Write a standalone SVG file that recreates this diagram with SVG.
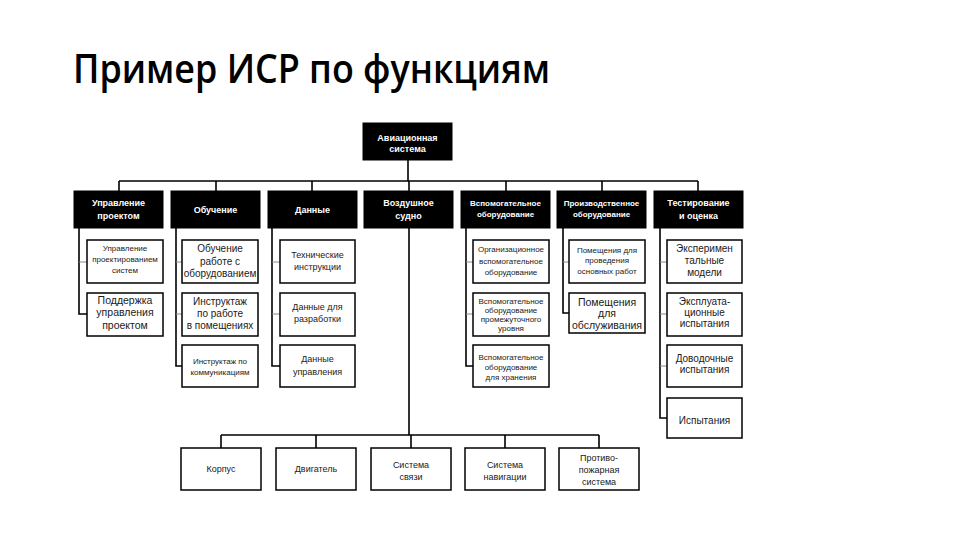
<svg xmlns="http://www.w3.org/2000/svg" width="960" height="540" viewBox="0 0 960 540">
<style>
.title{font-family:"Open Sans","Noto Sans","Liberation Sans",sans-serif;font-size:40px;font-weight:600;fill:#000}
.hd rect{fill:#000;stroke:#000;stroke-width:1}
.hd text{font-family:"Liberation Sans",Arial,sans-serif;font-weight:bold;fill:#fff;text-anchor:middle}
.bx rect{fill:#fff;stroke:#000;stroke-width:1.5}
.bx text{font-family:"Liberation Sans",Arial,sans-serif;fill:#1a1a1a;text-anchor:middle}
.s8{font-size:8px}
.s9{font-size:9px}
.s10{font-size:10px}
.s11{font-size:10.5px}
.ln{fill:none;stroke:#000;stroke-width:1.6}
.br{fill:none;stroke:#888;stroke-width:1}
</style>
<rect x="0" y="0" width="960" height="540" fill="#fff"/>
<text class="title" x="73" y="83" textLength="477" lengthAdjust="spacingAndGlyphs">Пример ИСР по функциям</text>

<g id="connectors">
<path class="ln" d="M408 160V181M119 181H698M119 181V191M216 181V191M312 181V191M409 181V191M506 181V191M602 181V191M698 181V191"/>
<path class="ln" d="M79 228V314H87M176 228V366H182M272 228V366H280M466 228V366H473M563 228V313H569M660 228V418H667"/>
<path class="br" d="M79 262H87M176 262H182M176 314H182M272 262H280M272 314H280M466 262H473M466 314H473M563 262H569M660 262H667M660 314H667M660 366H667"/>
<path class="ln" d="M409 228V435M221 435H599M221 435V448M316 435V448M411 435V448M505 435V448M599 435V448"/>
</g>

<g id="root" class="hd"><rect x="363" y="123" width="89" height="37"/><text class="s9" x="407.5"><tspan x="407.5" y="141">Авиационная</tspan><tspan x="407.5" y="152">система</tspan></text></g>

<g id="h1" class="hd"><rect x="74" y="191" width="89" height="37"/><text class="s9"><tspan x="118.5" y="205.5">Управление</tspan><tspan x="118.5" y="218.5">проектом</tspan></text></g>
<g id="h2" class="hd"><rect x="171" y="191" width="89" height="37"/><text class="s9" x="215.5" y="213">Обучение</text></g>
<g id="h3" class="hd"><rect x="268" y="191" width="89" height="37"/><text class="s9" x="312.5" y="213">Данные</text></g>
<g id="h4" class="hd"><rect x="364" y="191" width="89" height="37"/><text class="s9"><tspan x="408.5" y="205.5">Воздушное</tspan><tspan x="408.5" y="218.5">судно</tspan></text></g>
<g id="h5" class="hd"><rect x="461" y="191" width="89" height="37"/><text class="s8"><tspan x="505.5" y="206">Вспомогательное</tspan><tspan x="505.5" y="217">оборудование</tspan></text></g>
<g id="h6" class="hd"><rect x="557" y="191" width="89" height="37"/><text class="s8"><tspan x="601.5" y="206">Производственное</tspan><tspan x="601.5" y="217">оборудование</tspan></text></g>
<g id="h7" class="hd"><rect x="654" y="191" width="89" height="37"/><text class="s9"><tspan x="698.5" y="205.5">Тестирование</tspan><tspan x="698.5" y="218.5">и оценка</tspan></text></g>

<g id="c1a" class="bx"><rect x="87" y="240" width="76" height="43"/><text class="s8"><tspan x="125" y="251">Управление</tspan><tspan x="125" y="262">проектированием</tspan><tspan x="125" y="273">систем</tspan></text></g>
<g id="c1b" class="bx"><rect x="87" y="293" width="76" height="43"/><text class="s11"><tspan x="125" y="304">Поддержка</tspan><tspan x="125" y="316">управления</tspan><tspan x="125" y="329">проектом</tspan></text></g>

<g id="c2a" class="bx"><rect x="182" y="240" width="76" height="43"/><text class="s10"><tspan x="220" y="252">Обучение</tspan><tspan x="220" y="265">работе с</tspan><tspan x="220" y="277">оборудованием</tspan></text></g>
<g id="c2b" class="bx"><rect x="182" y="293" width="76" height="43"/><text class="s10"><tspan x="220" y="305">Инструктаж</tspan><tspan x="220" y="317">по работе</tspan><tspan x="220" y="329">в помещениях</tspan></text></g>
<g id="c2c" class="bx"><rect x="182" y="345" width="76" height="42"/><text class="s8"><tspan x="220" y="364">Инструктаж по</tspan><tspan x="220" y="375">коммуникациям</tspan></text></g>

<g id="c3a" class="bx"><rect x="280" y="240" width="75" height="43"/><text class="s9"><tspan x="317.5" y="258">Технические</tspan><tspan x="317.5" y="270">инструкции</tspan></text></g>
<g id="c3b" class="bx"><rect x="280" y="293" width="75" height="43"/><text class="s9"><tspan x="317.5" y="310">Данные для</tspan><tspan x="317.5" y="322">разработки</tspan></text></g>
<g id="c3c" class="bx"><rect x="280" y="345" width="75" height="42"/><text class="s9"><tspan x="317.5" y="362">Данные</tspan><tspan x="317.5" y="375">управления</tspan></text></g>

<g id="c5a" class="bx"><rect x="473" y="240" width="76" height="43"/><text class="s8"><tspan x="511" y="252">Организационное</tspan><tspan x="511" y="264">вспомогательное</tspan><tspan x="511" y="275">оборудование</tspan></text></g>
<g id="c5b" class="bx"><rect x="473" y="293" width="76" height="43"/><text class="s8"><tspan x="511" y="303.5">Вспомогательное</tspan><tspan x="511" y="312.5">оборудование</tspan><tspan x="511" y="321.5">промежуточного</tspan><tspan x="511" y="330.5">уровня</tspan></text></g>
<g id="c5c" class="bx"><rect x="473" y="345" width="76" height="42"/><text class="s8"><tspan x="511" y="360">Вспомогательное</tspan><tspan x="511" y="370">оборудование</tspan><tspan x="511" y="380">для хранения</tspan></text></g>

<g id="c6a" class="bx"><rect x="569" y="240" width="76" height="43"/><text class="s8"><tspan x="607" y="253">Помещения для</tspan><tspan x="607" y="263">проведения</tspan><tspan x="607" y="274">основных работ</tspan></text></g>
<g id="c6b" class="bx"><rect x="569" y="293" width="76" height="40"/><text class="s11"><tspan x="607" y="305.5">Помещения</tspan><tspan x="607" y="317">для</tspan><tspan x="607" y="329">обслуживания</tspan></text></g>

<g id="c7a" class="bx"><rect x="667" y="240" width="75" height="43"/><text class="s10"><tspan x="704.5" y="251.5">Эксперимен</tspan><tspan x="704.5" y="263.5">тальные</tspan><tspan x="704.5" y="275.5">модели</tspan></text></g>
<g id="c7b" class="bx"><rect x="667" y="293" width="75" height="43"/><text class="s10"><tspan x="704.5" y="304.5">Эксплуата-</tspan><tspan x="704.5" y="315.5">ционные</tspan><tspan x="704.5" y="326.5">испытания</tspan></text></g>
<g id="c7c" class="bx"><rect x="667" y="345" width="75" height="42"/><text class="s10"><tspan x="704.5" y="362">Доводочные</tspan><tspan x="704.5" y="373">испытания</tspan></text></g>
<g id="c7d" class="bx"><rect x="667" y="398" width="75" height="40"/><text class="s10" x="704.5" y="424">Испытания</text></g>

<g id="b1" class="bx"><rect x="181" y="448" width="80" height="42"/><text class="s9" x="221" y="472">Корпус</text></g>
<g id="b2" class="bx"><rect x="276" y="448" width="80" height="42"/><text class="s9" x="316" y="472">Двигатель</text></g>
<g id="b3" class="bx"><rect x="371" y="448" width="80" height="42"/><text class="s9"><tspan x="411" y="467.5">Система</tspan><tspan x="411" y="480">связи</tspan></text></g>
<g id="b4" class="bx"><rect x="465" y="448" width="80" height="42"/><text class="s9"><tspan x="505" y="467.5">Система</tspan><tspan x="505" y="480">навигации</tspan></text></g>
<g id="b5" class="bx"><rect x="559" y="448" width="80" height="42"/><text class="s9"><tspan x="599" y="461">Противо-</tspan><tspan x="599" y="473">пожарная</tspan><tspan x="599" y="485">система</tspan></text></g>
</svg>
